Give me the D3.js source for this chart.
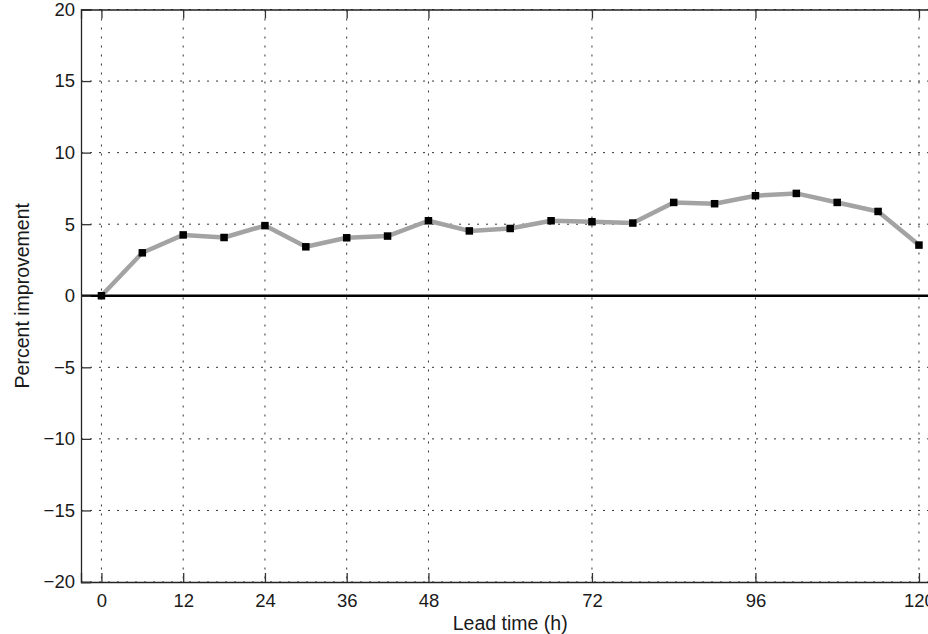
<!DOCTYPE html>
<html>
<head>
<meta charset="utf-8">
<script src="https://cdn.jsdelivr.net/npm/d3@7"></script>
<style>
  body { margin: 0; background: #fff; }
  text { font-family: "Liberation Sans", Arial, sans-serif; fill: #1a1a1a; }
</style>
</head>
<body>
<div id="chart"></div>
<script>
// Lead times (h) and percent improvement
const leadTimes = [0, 6, 12, 18, 24, 30, 36, 42, 48, 54, 60, 66, 72, 78, 84, 90, 96, 102, 108, 114, 120];
const improvement = [0, 3.0, 4.25, 4.07, 4.9, 3.42, 4.05, 4.17, 5.24, 4.53, 4.7, 5.24, 5.17, 5.08, 6.52, 6.43, 6.99, 7.15, 6.52, 5.89, 3.54];
const xTicks = [0, 12, 24, 36, 48, 72, 96, 120];
const yTicks = [-20, -15, -10, -5, 0, 5, 10, 15, 20];

const width = 928;
const height = 634;
const plot = { left: 81, top: 9.5, right: 939.4, bottom: 582 };

const svg = d3.select("#chart").append("svg")
  .attr("width", width)
  .attr("height", height);

const xScale = d3.scaleLinear()
  .domain([-3, 123])
  .range([plot.left, plot.right]);

const yScale = d3.scaleLinear()
  .domain([-20, 20])
  .range([plot.bottom, plot.top]);

// dotted grid
svg.append("g").selectAll("line")
  .data(xTicks)
  .enter()
  .append("line")
  .attr("x1", function(d) { return xScale(d); })
  .attr("x2", function(d) { return xScale(d); })
  .attr("y1", plot.top)
  .attr("y2", plot.bottom)
  .attr("stroke", "#333")
  .attr("stroke-width", 1)
  .attr("stroke-dasharray", "2,7");

svg.append("g").selectAll("line")
  .data(yTicks)
  .enter()
  .append("line")
  .attr("x1", plot.left)
  .attr("x2", plot.right)
  .attr("y1", function(d) { return yScale(d); })
  .attr("y2", function(d) { return yScale(d); })
  .attr("stroke", "#333")
  .attr("stroke-width", 1)
  .attr("stroke-dasharray", "2,7");

// zero line
svg.append("line")
  .attr("x1", plot.left)
  .attr("x2", plot.right)
  .attr("y1", yScale(0))
  .attr("y2", yScale(0))
  .attr("stroke", "#000")
  .attr("stroke-width", 2.4);

// axes, ticks pointing inward
const xAxisBottom = d3.axisBottom(xScale).tickValues(xTicks).tickSize(-9).tickPadding(12);
const xAxisTop = d3.axisTop(xScale).tickValues(xTicks).tickSize(-9).tickFormat("");
const yAxisLeft = d3.axisLeft(yScale).tickValues(yTicks).tickSize(-10).tickPadding(6)
  .tickFormat(function(d) { return d < 0 ? "\u2212" + Math.abs(d) : d; });

svg.append("g")
  .attr("class", "x axis bottom")
  .attr("transform", "translate(0," + plot.bottom + ")")
  .call(xAxisBottom);

svg.append("g")
  .attr("class", "x axis top")
  .attr("transform", "translate(0," + plot.top + ")")
  .call(xAxisTop);

svg.append("g")
  .attr("class", "y axis left")
  .attr("transform", "translate(" + plot.left + ",0)")
  .call(yAxisLeft);

svg.selectAll(".axis path.domain")
  .attr("stroke", "#222")
  .attr("stroke-width", 1.3);
svg.selectAll(".axis line")
  .attr("stroke", "#333")
  .attr("stroke-width", 1.3);
svg.selectAll(".axis text")
  .attr("font-size", 18.5)
  .attr("fill", "#1a1a1a");

// the series
const points = leadTimes.map(function(t, i) { return { x: t, y: improvement[i] }; });

const line = d3.line()
  .x(function(d) { return xScale(d.x); })
  .y(function(d) { return yScale(d.y); });

svg.append("path")
  .datum(points)
  .attr("fill", "none")
  .attr("stroke", "#a3a3a3")
  .attr("stroke-width", 4.5)
  .attr("stroke-linejoin", "round")
  .attr("d", line);

const markerSize = 7.5;
svg.append("g").selectAll("rect")
  .data(points)
  .enter()
  .append("rect")
  .attr("x", function(d) { return xScale(d.x) - markerSize / 2; })
  .attr("y", function(d) { return yScale(d.y) - markerSize / 2; })
  .attr("width", markerSize)
  .attr("height", markerSize)
  .attr("fill", "#000");

// axis titles
svg.append("text")
  .attr("x", (plot.left + plot.right) / 2)
  .attr("y", 630)
  .attr("text-anchor", "middle")
  .attr("font-size", 19.5)
  .text("Lead time (h)");

svg.append("text")
  .attr("transform", "translate(28.5," + yScale(0) + ") rotate(-90)")
  .attr("text-anchor", "middle")
  .attr("font-size", 19.5)
  .text("Percent improvement");
</script>
</body>
</html>
